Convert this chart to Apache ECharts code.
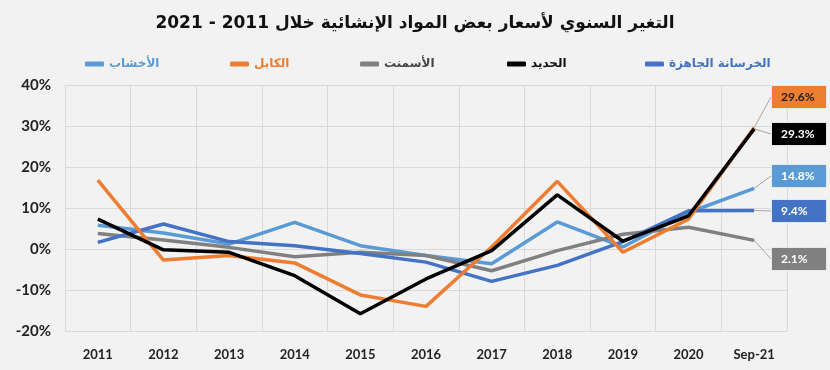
<!DOCTYPE html>
<html><head><meta charset="utf-8">
<script src="https://cdn.jsdelivr.net/npm/echarts@6/dist/echarts.min.js"></script>
<style>html,body{margin:0;padding:0;background:#f2f2f2}#c{width:830px;height:370px}</style>
</head><body><div id="c"></div>
<script>
var categories = ['2011','2012','2013','2014','2015','2016','2017','2018','2019','2020','Sep-21'];
var titleText = 'التغير السنوي لأسعار بعض المواد الإنشائية خلال 2011 - 2021';
var yTicks = [-20, -10, 0, 10, 20, 30, 40];

var nameWood = 'الأخشاب';
var nameCable = 'الكابل';
var nameCement = 'الأسمنت';
var nameSteel = 'الحديد';
var nameConcrete = 'الخرسانة الجاهزة';

var wood     = [5.8, 3.9, 1.2, 6.5, 0.8, -1.6, -3.6, 6.6, 0.5, 8.9, 14.8];
var cable    = [16.8, -2.7, -1.6, -3.4, -11.2, -14.0, 0.5, 16.5, -0.8, 7.3, 29.6];
var cement   = [3.8, 2.2, 0.4, -1.9, -0.8, -1.6, -5.3, -0.4, 3.6, 5.3, 2.1];
var steel    = [7.3, -0.2, -0.8, -6.5, -15.8, -7.3, -0.4, 13.2, 1.9, 8.1, 29.3];
var concrete = [1.6, 6.1, 1.8, 0.8, -1.1, -3.2, -7.9, -4.0, 1.8, 9.3, 9.4];

var chart = echarts.init(document.getElementById('c'));
var F = 'Lato, "Liberation Sans", "DejaVu Sans", sans-serif';
var AR = '"DejaVu Sans", sans-serif';

function mk(name, vals, color, labelY, textColor) {
  var last = vals.length - 1;
  return {
    name: name, type: 'line', data: vals.map(function (v, i) {
      if (i === last) return { value: v, label: { show: true } };
      return v;
    }),
    symbol: 'circle', symbolSize: 0.1, showSymbol: true,
    lineStyle: { color: color, width: 3.5 },
    itemStyle: { color: color },
    emphasis: { disabled: true },
    label: {
      show: false,
      formatter: function (p) { return p.value.toFixed(1) + '%'; },
      backgroundColor: color, color: textColor,
      fontFamily: F, fontWeight: 'bold', fontSize: 12,
      padding: [5, 8, 5, 9], width: 37, borderColor: '#e8e8e8', borderWidth: 1
    },
    labelLine: { show: true, lineStyle: { color: '#a6a6a6', width: 1 } },
    labelLayout: function () {
      return { x: 772, y: labelY, align: 'left', verticalAlign: 'middle' };
    }
  };
}

function lg(name, left, color) {
  return {
    data: [name], left: left, top: 53, icon: 'roundRect', itemWidth: 19, itemHeight: 5,
    itemGap: 6, selectedMode: false,
    textStyle: { color: color, fontFamily: AR, fontSize: 12, fontWeight: 'bold' }
  };
}

chart.setOption({
  backgroundColor: '#f2f2f2',
  animation: false,
  title: {
    text: titleText, left: 'center', top: 10,
    textStyle: { fontFamily: AR, fontSize: 17, fontWeight: 'bold', color: '#111' }
  },
  legend: [
    lg(nameWood, 80, '#5B9BD5'),
    lg(nameCable, 225, '#ED7D31'),
    lg(nameCement, 355, '#444'),
    lg(nameSteel, 502, '#111'),
    lg(nameConcrete, 640, '#4472C4')
  ],
  grid: { left: 65, right: 43, top: 85, bottom: 39 },
  xAxis: {
    type: 'category', data: categories, boundaryGap: true,
    axisLine: { show: true, lineStyle: { color: '#d9d9d9' } },
    axisTick: { show: false },
    splitLine: { show: true, lineStyle: { color: '#d9d9d9' } },
    axisLabel: { color: '#222', fontFamily: F, fontWeight: 'bold', fontSize: 13, margin: 17 }
  },
  yAxis: {
    type: 'value', min: yTicks[0], max: yTicks[yTicks.length - 1], interval: 10,
    axisLine: { show: false }, axisTick: { show: false },
    splitLine: { show: true, lineStyle: { color: '#d9d9d9' } },
    axisLabel: { formatter: '{value}%', color: '#222', fontFamily: F, fontWeight: 'bold', fontSize: 15, margin: 14 }
  },
  series: [
    mk(nameWood, wood, '#5B9BD5', 176, '#fff'),
    mk(nameCement, cement, '#808080', 259, '#fff'),
    mk(nameConcrete, concrete, '#4472C4', 211, '#fff'),
    mk(nameCable, cable, '#ED7D31', 97, '#222'),
    mk(nameSteel, steel, '#000000', 134, '#fff')
  ]
});
</script></body></html>
